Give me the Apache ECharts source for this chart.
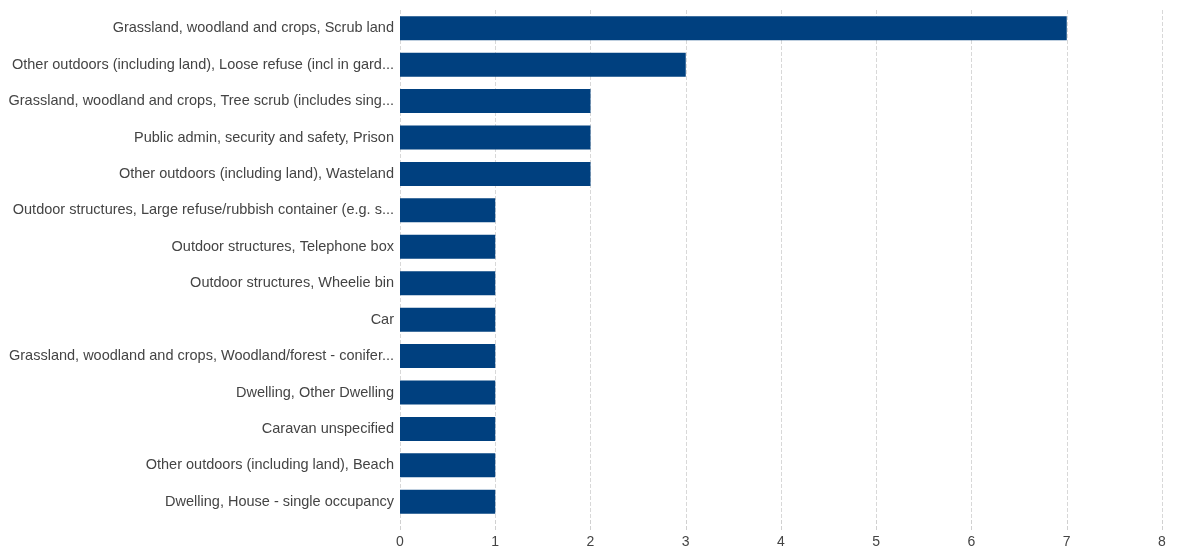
<!DOCTYPE html>
<html><head><meta charset="utf-8">
<script src="https://cdn.jsdelivr.net/npm/echarts@6/dist/echarts.min.js"></script>
<style>html,body{margin:0;padding:0;background:#fff}#c{width:1197px;height:550px}</style>
</head><body><div id="c"></div>
<script>
const categories = [
  "Grassland, woodland and crops, Scrub land",
  "Other outdoors (including land), Loose refuse (incl in gard...",
  "Grassland, woodland and crops, Tree scrub (includes sing...",
  "Public admin, security and safety, Prison",
  "Other outdoors (including land), Wasteland",
  "Outdoor structures, Large refuse/rubbish container (e.g. s...",
  "Outdoor structures, Telephone box",
  "Outdoor structures, Wheelie bin",
  "Car",
  "Grassland, woodland and crops, Woodland/forest - conifer...",
  "Dwelling, Other Dwelling",
  "Caravan unspecified",
  "Other outdoors (including land), Beach",
  "Dwelling, House - single occupancy"
];
const values = [7, 3, 2, 2, 2, 1, 1, 1, 1, 1, 1, 1, 1, 1];
const xTicks = [0, 1, 2, 3, 4, 5, 6, 7, 8];

const chart = echarts.init(document.getElementById('c'));
chart.setOption({
  animation: false,
  grid: { left: 400, right: 35, top: 10, bottom: 30, containLabel: false },
  xAxis: {
    type: 'value', min: xTicks[0], max: xTicks[xTicks.length - 1], interval: 1,
    axisLine: { show: false },
    axisTick: { show: true, length: 10, lineStyle: { color: '#d0d0d0', type: 'dashed' } },
    axisLabel: { color: '#444', fontFamily: 'Liberation Sans, Arial, sans-serif', fontSize: 14, margin: 15 },
    splitLine: { show: true, lineStyle: { color: '#d8d8d8', type: 'dashed' } }
  },
  yAxis: {
    type: 'category', data: categories, inverse: true,
    axisLine: { show: false }, axisTick: { show: false },
    axisLabel: { color: '#444', fontFamily: 'Liberation Sans, Arial, sans-serif', fontSize: 14.5, margin: 6 }
  },
  series: [{
    type: 'bar', data: values, barWidth: 24,
    itemStyle: { color: '#00407f' }
  }]
});
</script></body></html>
